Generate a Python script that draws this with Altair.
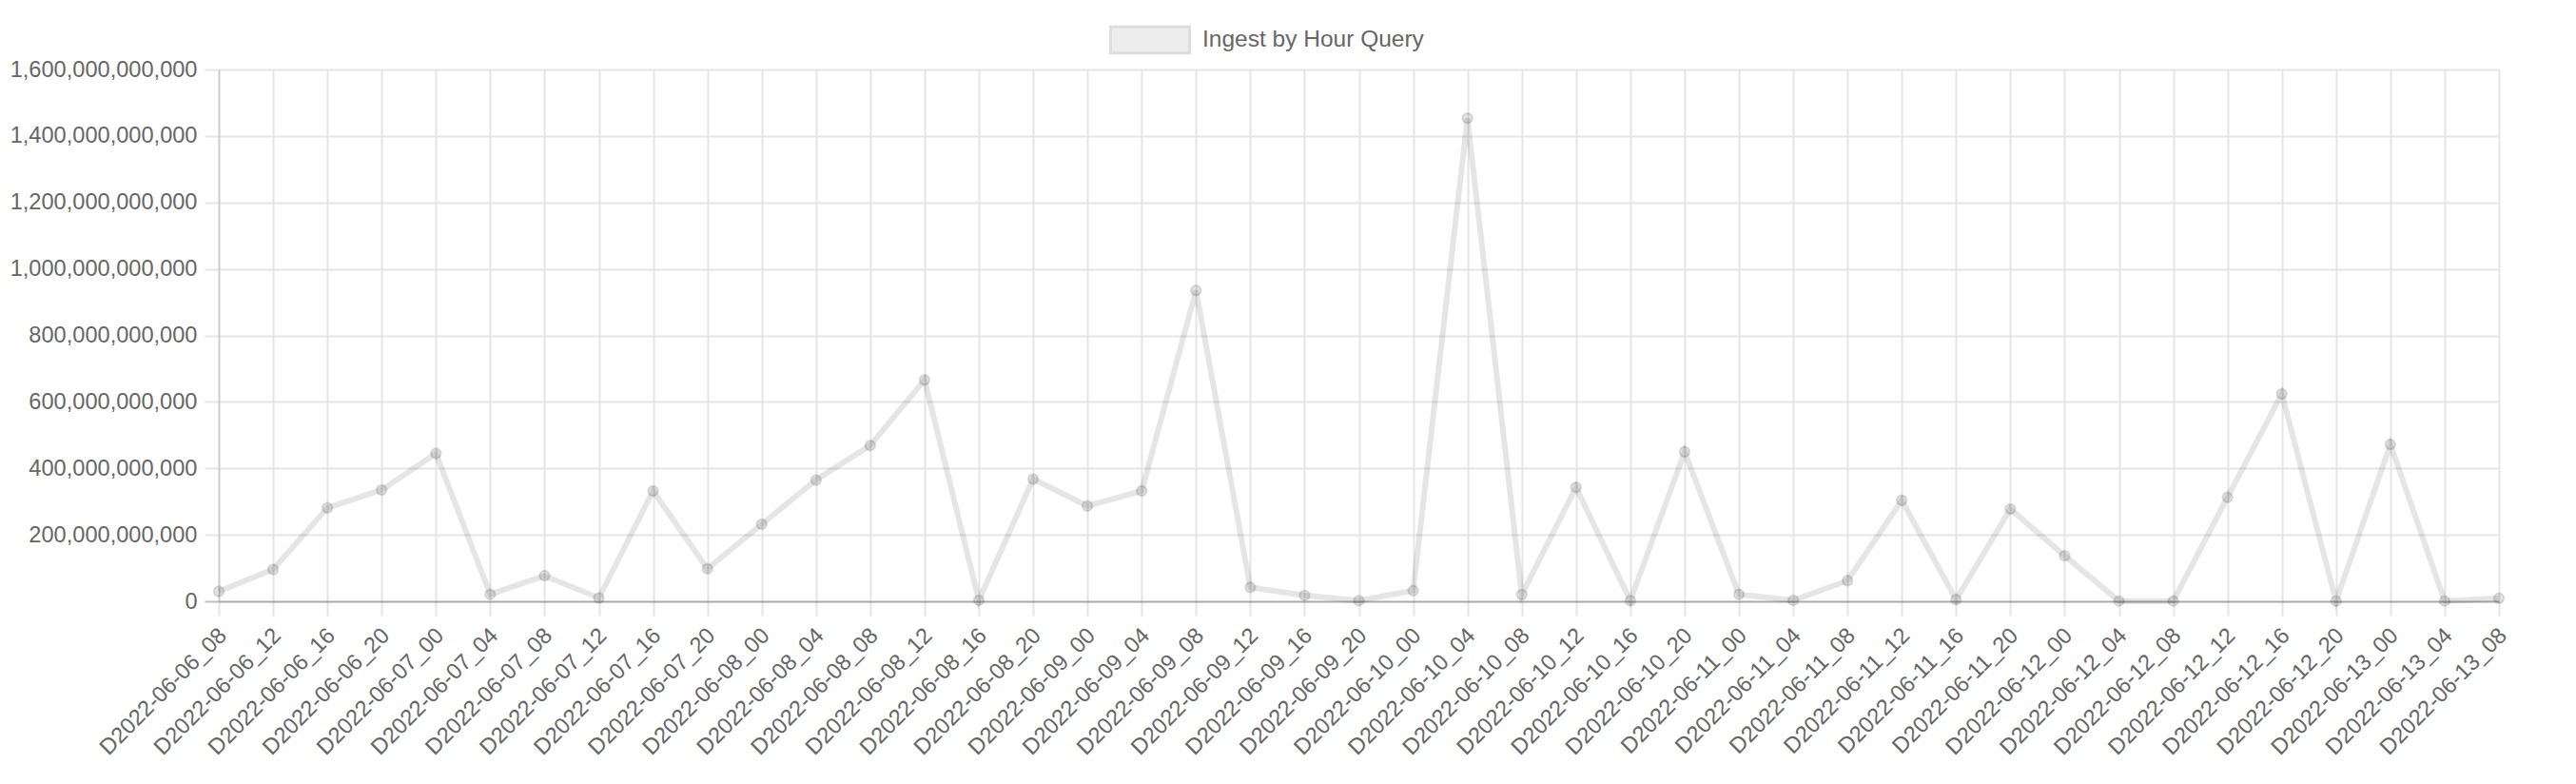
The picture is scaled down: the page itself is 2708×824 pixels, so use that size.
import altair as alt
import pandas as pd

categories = [
    "D2022-06-06_08", "D2022-06-06_12", "D2022-06-06_16", "D2022-06-06_20",
    "D2022-06-07_00", "D2022-06-07_04", "D2022-06-07_08", "D2022-06-07_12",
    "D2022-06-07_16", "D2022-06-07_20", "D2022-06-08_00", "D2022-06-08_04",
    "D2022-06-08_08", "D2022-06-08_12", "D2022-06-08_16", "D2022-06-08_20",
    "D2022-06-09_00", "D2022-06-09_04", "D2022-06-09_08", "D2022-06-09_12",
    "D2022-06-09_16", "D2022-06-09_20", "D2022-06-10_00", "D2022-06-10_04",
    "D2022-06-10_08", "D2022-06-10_12", "D2022-06-10_16", "D2022-06-10_20",
    "D2022-06-11_00", "D2022-06-11_04", "D2022-06-11_08", "D2022-06-11_12",
    "D2022-06-11_16", "D2022-06-11_20", "D2022-06-12_00", "D2022-06-12_04",
    "D2022-06-12_08", "D2022-06-12_12", "D2022-06-12_16", "D2022-06-12_20",
    "D2022-06-13_00", "D2022-06-13_04", "D2022-06-13_08",
]

# values in billions
values_billion = [
    30, 96, 281, 335,
    445, 21, 77, 10,
    332, 98, 232, 365,
    469, 666, 3, 368,
    287, 332, 935, 42,
    18, 2, 32, 1453,
    20, 343, 2, 450,
    21, 3, 62, 304,
    5, 278, 137, 1,
    1, 313, 624, 1,
    472, 1, 9,
]

series_name = "Ingest by Hour Query"
y_ticks = [0, 200e9, 400e9, 600e9, 800e9, 1000e9, 1200e9, 1400e9, 1600e9]

df = pd.DataFrame({
    "t": categories,
    "v": [v * 1e9 for v in values_billion],
    "series": [series_name] * len(categories),
})

FONT = "Liberation Sans"
FS = 23.6

x_enc = alt.X(
    "t:O",
    sort=categories,
    scale=alt.Scale(padding=0),
    axis=alt.Axis(
        title=None,
        labelAngle=-45,
        labelAlign="right",
        labelBaseline="middle",
        labelPadding=17,
        labelOffset=4,
        labelFont=FONT,
        labelFontSize=FS,
        labelColor="#666666",
        labelOverlap=False,
        labelBound=False,
        labelLimit=0,
        tickSize=15,
        tickColor="black",
        tickOpacity=0.1,
        tickWidth=2,
        grid=True,
        gridColor="black",
        gridOpacity=0.1,
        gridWidth=2,
        domain=True,
        domainColor="black",
        domainOpacity=0.1,
        domainWidth=2,
    ),
)

y_enc = alt.Y(
    "v:Q",
    scale=alt.Scale(domain=[0, 1.6e12], nice=False, zero=True),
    axis=alt.Axis(
        title=None,
        values=y_ticks,
        format=",d",
        labelFont=FONT,
        labelFontSize=FS,
        labelColor="#666666",
        labelPadding=8,
        labelLimit=0,
        tickSize=15,
        tickColor={"condition": {"test": "datum.value === 0", "value": "#bfbfbf"}, "value": "#e6e6e6"},
        tickWidth=2,
        grid=True,
        gridColor={"condition": {"test": "datum.value === 0", "value": "#bfbfbf"}, "value": "#e6e6e6"},
        gridWidth=2,
        domain=True,
        domainColor="black",
        domainOpacity=0.1,
        domainWidth=2,
    ),
)

line = alt.Chart(df).mark_line(
    stroke="black", strokeOpacity=0.1, strokeWidth=6, strokeJoin="miter"
).encode(x=x_enc, y=y_enc)

points = alt.Chart(df).mark_point(
    filled=True, shape="circle", size=110,
    fill="black", fillOpacity=0.1, stroke="black", strokeOpacity=0.12, strokeWidth=2,
).encode(x=x_enc, y=y_enc)

# legend carrier layer (draws no marks)
legend_layer = alt.Chart(df).transform_filter("false").mark_point(
    filled=True, stroke="#cfcfcf", strokeWidth=3,
).encode(
    x=x_enc,
    y=y_enc,
    color=alt.Color(
        "series:N",
        scale=alt.Scale(domain=[series_name], range=["#e6e6e6"]),
        legend=alt.Legend(
            title=None,
            orient="none",
            legendX=936,
            legendY=-74,
            padding=0,
            symbolType="M-1,-0.33L1,-0.33L1,0.33L-1,0.33Z",
            symbolSize=6889,
            symbolStrokeWidth=3,
            symbolStrokeColor="#cfcfcf",
            labelOffset=12,
            labelLimit=0,
            labelFont=FONT,
            labelFontSize=24.5,
            labelColor="#666666",
        ),
    ),
)

chart = alt.layer(line, points, legend_layer).properties(
    width=2397,
    height=559,
    autosize=alt.AutoSizeParams(type="none"),
    padding={"left": 222, "top": 65, "right": 60, "bottom": 182},
).configure_view(strokeWidth=0)

chart.save("out.html", embed_options={"renderer": "svg", "actions": False})
